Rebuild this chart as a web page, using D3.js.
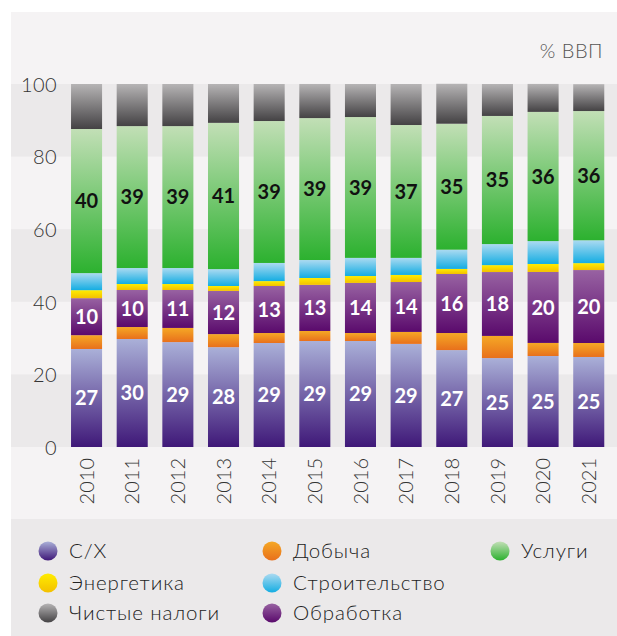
<!DOCTYPE html>
<html><head><meta charset="utf-8">
<script src="https://cdn.jsdelivr.net/npm/d3@7"></script>
<style>
html,body{margin:0;padding:0;background:#fff;}
svg{display:block;font-family:Lato,"Open Sans",sans-serif;}
</style></head>
<body>
<svg id="c" width="617" height="636"></svg>
<script>
const years = ["2010","2011","2012","2013","2014","2015","2016","2017","2018","2019","2020","2021"];
const agri      = [27.0, 29.75, 28.9, 27.5, 28.65, 29.2, 29.2, 28.4, 26.7, 24.5, 25.07, 24.8];
const mining    = [3.8, 3.3, 3.9, 3.6, 2.75, 2.76, 2.2, 3.3, 4.7, 6.1, 3.6, 3.85];
const manuf     = [10.2, 10.2, 10.45, 11.9, 12.95, 12.7, 13.8, 13.75, 16.26, 17.6, 19.55, 20.1];
const energy    = [2.2, 1.65, 1.65, 1.35, 1.35, 1.9, 1.9, 1.95, 1.4, 1.9, 2.2, 1.9];
const constr    = [4.7, 4.4, 4.4, 4.65, 5.0, 4.95, 5.0, 4.7, 5.3, 5.8, 6.3, 6.3];
const services  = [39.7, 39.1, 39.1, 40.3, 39.1, 39.1, 38.8, 36.6, 34.7, 35.3, 35.6, 35.6];
const taxes     = [12.4, 11.6, 11.6, 10.7, 10.2, 9.4, 9.1, 11.3, 11.0, 8.8, 7.7, 7.4];
const agriLabels     = [27, 30, 29, 28, 29, 29, 29, 29, 27, 25, 25, 25];
const manufLabels    = [10, 10, 11, 12, 13, 13, 14, 14, 16, 18, 20, 20];
const servicesLabels = [40, 39, 39, 41, 39, 39, 39, 37, 35, 35, 36, 36];
const yTicks = [0, 20, 40, 60, 80, 100];
const unitLabel = "% ВВП";
// legend layout: [key, column, row]
const legendLayout = [["agri",0,0],["energy",0,1],["taxes",0,2],["mining",1,0],["constr",1,1],["manuf",1,2],["services",2,0]];

const series = [
  {key:"agri", name:"С/Х", values:agri, labels:agriLabels, c:["#aab0d8","#3f1878"], tc:"#fff"},
  {key:"mining", name:"Добыча", values:mining, c:["#f5a825","#e8701c"]},
  {key:"manuf", name:"Обработка", values:manuf, labels:manufLabels, c:["#9862a2","#5a0a6c"], tc:"#fff"},
  {key:"energy", name:"Энергетика", values:energy, c:["#ffec00","#f3c000"]},
  {key:"constr", name:"Строительство", values:constr, c:["#abdaf1","#14ade2"]},
  {key:"services", name:"Услуги", values:services, labels:servicesLabels, c:["#c2dfb6","#2cb12f"], tc:"#111"},
  {key:"taxes", name:"Чистые налоги", values:taxes, c:["#b6b4b5","#444244"]}
];

const svg = d3.select("#c");
const defs = svg.append("defs");
series.forEach(s=>{
  const g = defs.append("linearGradient").attr("id","g-"+s.key).attr("x1",0).attr("y1",0).attr("x2",0).attr("y2",1);
  g.append("stop").attr("offset","0%").attr("stop-color",s.c[0]);
  g.append("stop").attr("offset","100%").attr("stop-color",s.c[1]);
});

// panels
svg.append("rect").attr("x",11).attr("y",12).attr("width",606).attr("height",507).attr("fill","#f5f3f4");
svg.append("rect").attr("x",11).attr("y",519).attr("width",606).attr("height",117).attr("fill","#ebe9ea");

const y = d3.scaleLinear().domain([0,100]).range([447,84]);
const x = d3.scaleBand().domain(years).range([61.9,613.4]).paddingInner(0.32).paddingOuter(0.2);

// alternating bands
for (let i=0;i<yTicks.length-1;i++){
  if (i%2===0){
    svg.append("rect").attr("x",11).attr("width",606)
      .attr("y",y(yTicks[i+1])).attr("height",y(yTicks[i])-y(yTicks[i+1]))
      .attr("fill","#ebe9ea");
  }
}

// y axis
const yAxis = d3.axisLeft(y).tickValues(yTicks).tickSize(0).tickPadding(0);
const ya = svg.append("g").attr("transform","translate(57,0)").call(yAxis);
ya.select(".domain").remove();
ya.selectAll("text").attr("font-size",20).attr("font-weight",300).attr("fill","#333")
  .attr("font-family","Lato, sans-serif").attr("dy","0.36em").attr("letter-spacing",0.4);

// x axis
const xAxis = d3.axisBottom(x).tickSize(0).tickPadding(0);
const xa = svg.append("g").attr("transform","translate(0,458)").call(xAxis);
xa.select(".domain").remove();
xa.selectAll("text").attr("font-size",20).attr("font-weight",300).attr("fill","#333")
  .attr("font-family","Lato, sans-serif")
  .attr("transform","rotate(-90)").attr("text-anchor","end")
  .attr("x",0).attr("y",0).attr("dy","0.36em");

// stack
const rows = years.map((yr,i)=>{const r={year:yr}; series.forEach(s=>r[s.key]=s.values[i]); return r;});
const stack = d3.stack().keys(series.map(s=>s.key))(rows);

const bars = svg.append("g");
stack.forEach((layer,li)=>{
  const s = series[li];
  bars.selectAll(null).data(layer).join("rect")
    .attr("x",d=>x(d.data.year)).attr("width",x.bandwidth())
    .attr("y",d=>y(d[1])).attr("height",d=>y(d[0])-y(d[1]))
    .attr("fill","url(#g-"+s.key+")");
  if (s.labels){
    bars.selectAll(null).data(layer).join("text")
      .attr("x",d=>x(d.data.year)+x.bandwidth()/2)
      .attr("y",d=>y((d[0]+d[1])/2))
      .attr("dy","0.36em").attr("text-anchor","middle")
      .attr("font-size",20).attr("font-weight",700).attr("fill",s.tc)
      .text((d,i)=>s.labels[i]);
  }
});

// unit label
svg.append("text").attr("x",603).attr("y",58).attr("text-anchor","end")
  .attr("font-size",20).attr("font-weight",300).attr("fill","#555").attr("letter-spacing",0.5).text(unitLabel);

// legend
const colX = [48, 272, 500];
const rowY = [551, 583, 613];
legendLayout.forEach(([k,col,row])=>{
  const s = series.find(d=>d.key===k);
  const cx = colX[col], cy = rowY[row];
  svg.append("circle").attr("cx",cx).attr("cy",cy).attr("r",9.5).attr("fill","url(#g-"+k+")");
  svg.append("text").attr("x",cx+21).attr("y",cy).attr("dy","0.36em")
    .attr("font-size",20.5).attr("font-weight",300).attr("fill","#222").attr("letter-spacing",0.9).text(s.name);
});
</script>
</body></html>
